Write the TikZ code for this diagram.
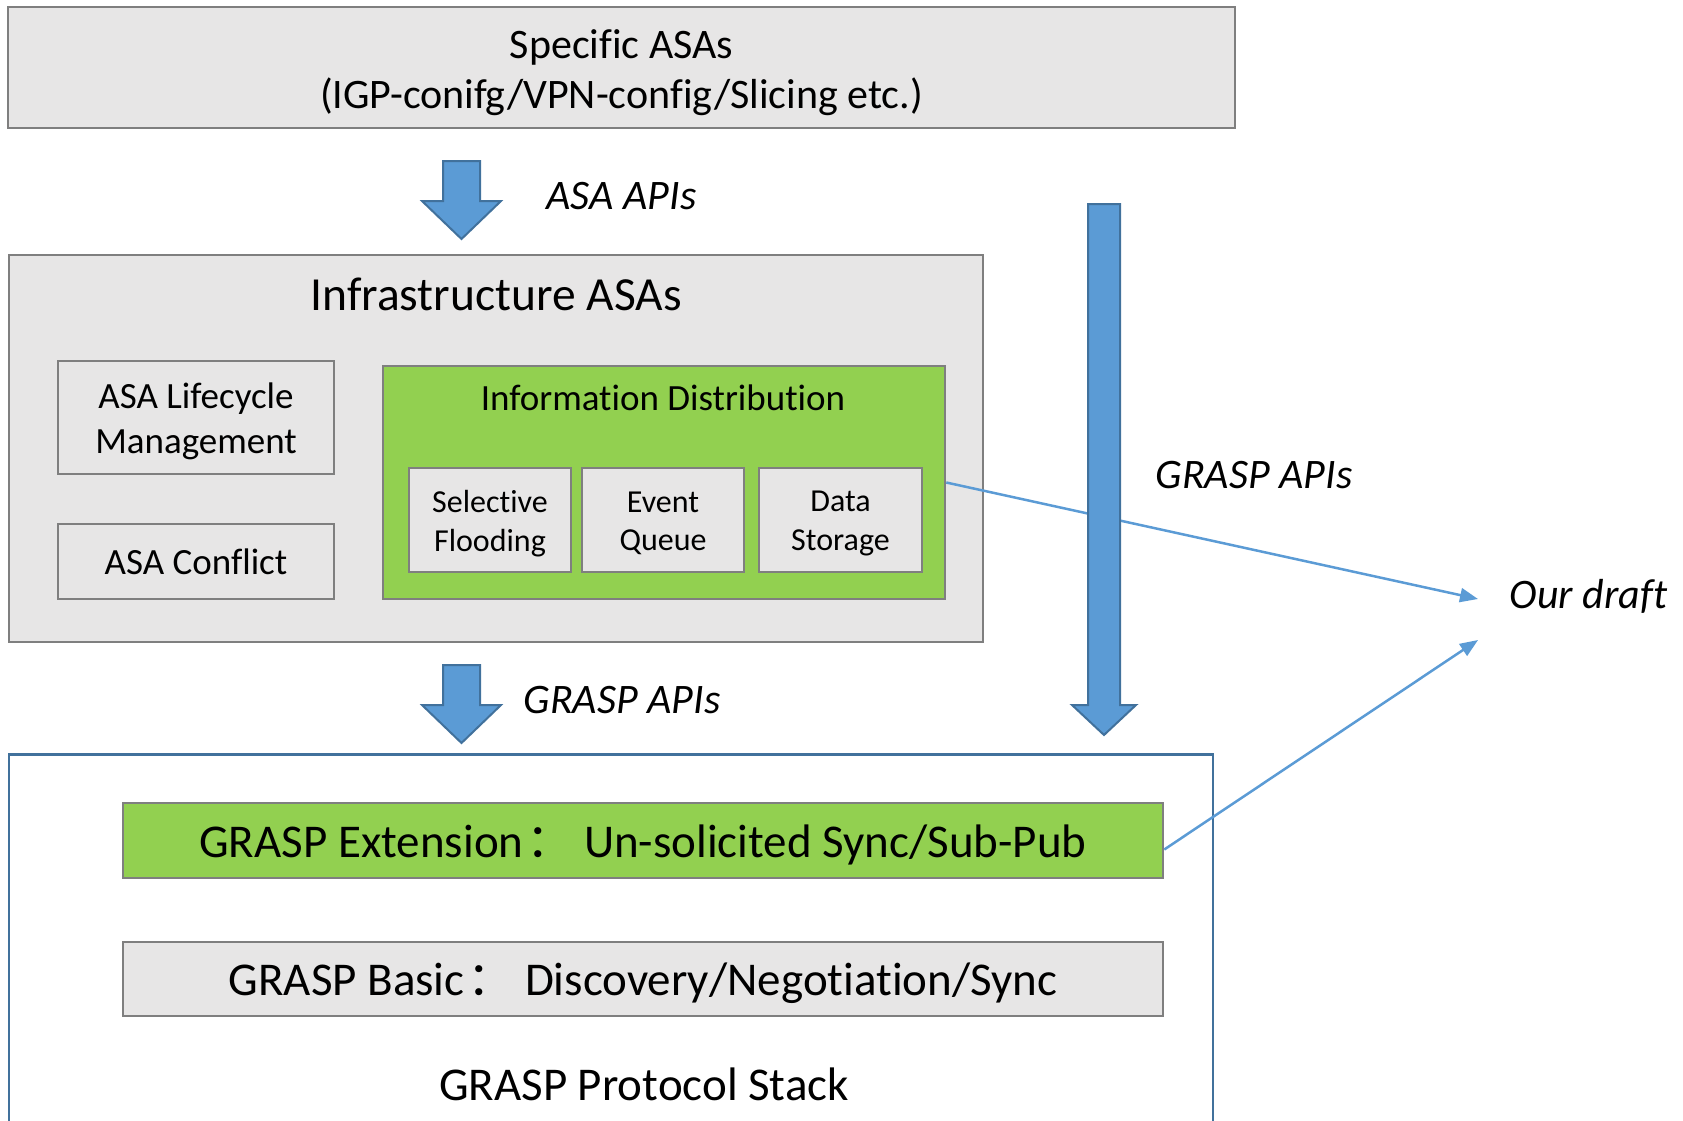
\documentclass[tikz,border=0pt]{standalone}
\usepackage{fontspec}
\setmainfont{Carlito}[Ligatures=NoCommon]
\newfontfamily\cjk{Noto Sans CJK SC}
\usetikzlibrary{arrows.meta}
\definecolor{boxgray}{HTML}{E7E6E6}
\definecolor{edgegray}{HTML}{7F7F7F}
\definecolor{leaf}{HTML}{92D050}
\definecolor{arrowblue}{HTML}{5B9BD5}
\definecolor{arrowedge}{HTML}{41719C}
\begin{document}
\begin{tikzpicture}[x=1pt,y=-1pt,
  graybox/.style={draw=edgegray, fill=boxgray, line width=2.5pt, inner sep=0pt},
  greenbox/.style={graybox, fill=leaf},
  label/.style={inner sep=0pt, align=center},
  apilabel/.style={label, font=\fontsize{42}{50}\selectfont\itshape},
  fatarrow/.style={fill=arrowblue, draw=arrowedge, line width=2pt, line join=miter},
  thinarrow/.style={draw=arrowblue, line width=2.5pt, -{Triangle[length=18pt,width=14pt]}}
]
\useasboundingbox (0,0) rectangle (1683,1121);
\clip (0,0) rectangle (1683,1121);

% top layer
\node[graybox, minimum width=1227pt, minimum height=121pt] (specific) at (621.5,67.5) {};
\node[label, font=\fontsize{42}{50}\selectfont] (specifictext) at ([yshift=-5pt]specific.center)
  {Specific ASAs\\(IGP-conifg/VPN-config/Slicing etc.)};

% infrastructure layer
\node[graybox, minimum width=974pt, minimum height=387pt] (infra) at (496,448.5) {};
\node[label, font=\fontsize{47.5}{57}\selectfont] (infratitle) at (496,294) {Infrastructure ASAs};

\node[graybox, minimum width=276pt, minimum height=113pt] (life) at (196,417.5) {};
\node[label, font=\fontsize{37}{45}\selectfont] (lifetext) at ([yshift=-4pt]life.center)
  {ASA Lifecycle\\Management};
\node[graybox, minimum width=276pt, minimum height=75pt] (conflict) at (196,561.5) {};
\node[label, font=\fontsize{37}{45}\selectfont] (conflicttext) at (conflict.center) {ASA Conflict};

\node[greenbox, minimum width=562pt, minimum height=233pt] (info) at (664,482.5) {};
\node[label, font=\fontsize{37}{45}\selectfont] (infotitle) at (663,398) {Information Distribution};

\node[graybox, minimum width=162pt, minimum height=104pt] (flood) at (490,520) {};
\node[graybox, minimum width=162pt, minimum height=104pt] (queue) at (663,520) {};
\node[graybox, minimum width=163pt, minimum height=104pt] (store) at (840.5,520) {};
\node[label, font=\fontsize{32}{38.5}\selectfont] (floodtext) at ([yshift=-3.5pt]flood.center) {Selective\\Flooding};
\node[label, font=\fontsize{32}{38.5}\selectfont] (queuetext) at ([yshift=-3.5pt]queue.center) {Event\\Queue};
\node[label, font=\fontsize{32}{38.5}\selectfont] (storetext) at ([yshift=-3.5pt]store.center) {Data\\Storage};

% protocol stack
\node[draw=arrowedge, line width=2.5pt, inner sep=0pt, minimum width=1204pt,
      minimum height=420pt] (stack) at (611,964.5) {};
\node[greenbox, minimum width=1040pt, minimum height=75pt] (ext) at (643,840.5) {};
\node[label, font=\fontsize{47}{56}\selectfont] (exttext) at ([yshift=-4pt]ext.center)
  {GRASP Extension\kern0.06em{\cjk ：}\ Un-solicited Sync/Sub-Pub};
\node[graybox, minimum width=1040pt, minimum height=74pt] (basic) at (643,979) {};
\node[label, font=\fontsize{47}{56}\selectfont] (basictext) at ([yshift=-4pt]basic.center)
  {GRASP Basic\kern0.06em{\cjk ：}\ Discovery/Negotiation/Sync};
\node[label, font=\fontsize{47}{56}\selectfont] (stacktitle) at (644,1084) {GRASP Protocol Stack};

% API labels
\node[apilabel] (asaapi) at (621.5,196) {ASA APIs};
\node[apilabel] (graspapi) at (622,700) {GRASP APIs};
\node[apilabel] (graspapi2) at (1254,475) {GRASP APIs};
\node[apilabel] (draft) at (1588.5,596) {Our draft};

% pointers to the draft
\coordinate (tipA) at (1478,599);
\coordinate (tipB) at (1478,640);
\draw[thinarrow] (info.east) -- (tipA);
\draw[thinarrow] ([yshift=-9pt]ext.east) -- (tipB);

% block arrows
\draw[fatarrow] (443,161) -- (480,161) -- (480,201) -- (501,201) -- (461.5,239)
  -- (422,201) -- (443,201) -- cycle;
\draw[fatarrow] (443,665) -- (480,665) -- (480,705) -- (501,705) -- (461.5,743)
  -- (422,705) -- (443,705) -- cycle;
\draw[fatarrow] (1088,204) -- (1120,204) -- (1120,705) -- (1136,705) -- (1104,735)
  -- (1072,705) -- (1088,705) -- cycle;
\end{tikzpicture}
\end{document}
